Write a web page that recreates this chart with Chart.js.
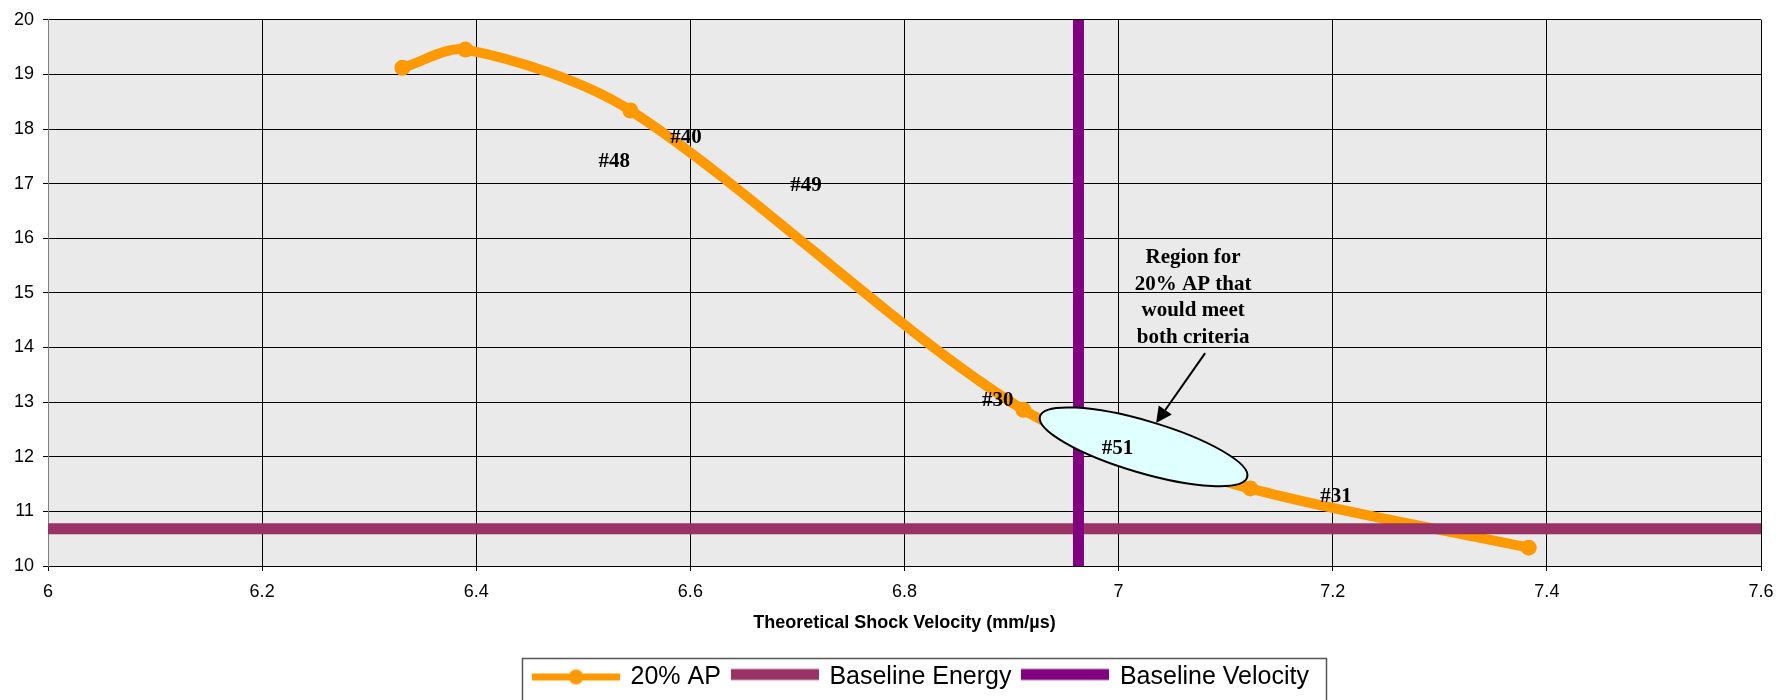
<!DOCTYPE html>
<html>
<head>
<meta charset="utf-8">
<title>20% AP vs theoretical shock velocity</title>
<script src="https://cdn.jsdelivr.net/npm/chart.js@4.4.1/dist/chart.umd.min.js"></script>
<style>
  html, body { margin: 0; padding: 0; background: #fff; }
  #wrap { width: 1787px; height: 700px; position: relative; }
</style>
</head>
<body>
<div id="wrap"><canvas id="shockChart"></canvas></div>
<script>
// 20% AP curve (x = theoretical shock velocity, y = value)
const apVelocity = [6.331, 6.390, 6.544, 6.911, 7.123, 7.383];
const apValue = [19.12, 19.455, 18.34, 12.86, 11.42, 10.335];

// baselines
const energyVelocity = [6, 7.6];
const energyValue = [10.68, 10.68];
const velocityVelocity = [6.9625, 6.9625];
const velocityValue = [10, 20];

// axis ticks
const xTickValues = [6, 6.2, 6.4, 6.6, 6.8, 7, 7.2, 7.4, 7.6];
const yTickValues = [10, 11, 12, 13, 14, 15, 16, 17, 18, 19, 20];

// shot labels written on the plot
const shotLabels = ['#48', '#40', '#49', '#30', '#51', '#31'];
const shotLabelX = [6.529, 6.596, 6.708, 6.887, 6.999, 7.203];
const shotLabelY = [17.40, 17.84, 16.96, 13.03, 12.15, 11.28];

// callout
const regionLines = ['Region for', '20% AP that', 'would meet', 'both criteria'];
const regionAt = [7.0696, 15.64];
const arrowFrom = [7.0808, 13.898];
const arrowTo = [7.035, 12.616];
const ellipseAt = [7.0233, 12.182];

const seriesNames = ['20% AP', 'Baseline Energy', 'Baseline Velocity'];

const toPoints = (xs, ys) => xs.map((v, i) => ({ x: v, y: ys[i] }));

function makeIcon(draw) {
  const c = document.createElement('canvas');
  c.width = 88;
  c.height = 20;
  draw(c.getContext('2d'));
  return c;
}

const legendIcons = [
  makeIcon((g) => {
    g.fillStyle = '#ff9900';
    g.fillRect(0, 6, 88, 7);
    g.beginPath();
    g.arc(44, 9.5, 7.5, 0, Math.PI * 2);
    g.fill();
  }),
  makeIcon((g) => {
    g.fillStyle = '#993366';
    g.fillRect(0, 1.5, 88, 11);
  }),
  makeIcon((g) => {
    g.fillStyle = '#800080';
    g.fillRect(0, 1.5, 88, 11);
  }),
];

const plotBackground = {
  id: 'plotBackground',
  beforeDraw(chart) {
    const { ctx, chartArea } = chart;
    ctx.save();
    ctx.fillStyle = '#ffffff';
    ctx.fillRect(0, 0, chart.width, chart.height);
    ctx.fillStyle = '#eaeaea';
    ctx.fillRect(chartArea.left, chartArea.top, chartArea.right - chartArea.left, chartArea.bottom - chartArea.top);
    ctx.restore();
  },
};

const calloutPlugin = {
  id: 'callout',
  afterDatasetsDraw(chart) {
    const { ctx, scales: { x, y } } = chart;
    ctx.save();

    // shaded region
    const cx = x.getPixelForValue(ellipseAt[0]);
    const cy = y.getPixelForValue(ellipseAt[1]);
    ctx.beginPath();
    ctx.ellipse(cx, cy, 108, 26, 16.4 * Math.PI / 180, 0, Math.PI * 2);
    ctx.fillStyle = '#e0ffff';
    ctx.fill();
    ctx.lineWidth = 2;
    ctx.strokeStyle = '#000';
    ctx.stroke();

    // arrow
    const ax = x.getPixelForValue(arrowFrom[0]);
    const ay = y.getPixelForValue(arrowFrom[1]);
    const bx = x.getPixelForValue(arrowTo[0]);
    const by = y.getPixelForValue(arrowTo[1]);
    const ang = Math.atan2(by - ay, bx - ax);
    const headLen = 16;
    const headHalf = 8;
    const baseX = bx - headLen * Math.cos(ang);
    const baseY = by - headLen * Math.sin(ang);
    ctx.beginPath();
    ctx.moveTo(ax, ay);
    ctx.lineTo(baseX, baseY);
    ctx.lineWidth = 2;
    ctx.stroke();
    ctx.beginPath();
    ctx.moveTo(bx, by);
    ctx.lineTo(baseX + headHalf * Math.sin(ang), baseY - headHalf * Math.cos(ang));
    ctx.lineTo(baseX - headHalf * Math.sin(ang), baseY + headHalf * Math.cos(ang));
    ctx.closePath();
    ctx.fillStyle = '#000';
    ctx.fill();

    // text
    ctx.font = 'bold 21px "Liberation Serif", "Times New Roman", serif';
    ctx.textAlign = 'center';
    ctx.textBaseline = 'middle';
    ctx.fillStyle = '#000';
    shotLabels.forEach((label, i) => {
      ctx.fillText(label, x.getPixelForValue(shotLabelX[i]), y.getPixelForValue(shotLabelY[i]));
    });
    const rx = x.getPixelForValue(regionAt[0]);
    const ry = y.getPixelForValue(regionAt[1]);
    regionLines.forEach((line, i) => ctx.fillText(line, rx, ry + i * 26.5));

    ctx.restore();
  },
};

const legendFrame = {
  id: 'legendFrame',
  afterDraw(chart) {
    const boxes = chart.legend && chart.legend.legendHitBoxes;
    if (!boxes || !boxes.length) return;
    const first = boxes[0];
    const last = boxes[boxes.length - 1];
    const left = Math.round(first.left - 12);
    const right = Math.round(last.left + last.width + 17);
    const top = Math.round(first.top - 7);
    const { ctx } = chart;
    ctx.save();
    ctx.strokeStyle = '#555';
    ctx.lineWidth = 1.5;
    ctx.strokeRect(left + 0.5, top + 0.5, right - left, chart.height - top + 10);
    ctx.restore();
  },
};

Chart.defaults.font.family = '"Liberation Sans", Arial, sans-serif';
Chart.defaults.color = '#000';

new Chart(document.getElementById('shockChart'), {
  type: 'line',
  data: {
    datasets: [
      {
        label: seriesNames[0],
        data: toPoints(apVelocity, apValue),
        borderColor: '#ff9900',
        backgroundColor: '#ff9900',
        borderWidth: 10,
        borderCapStyle: 'round',
        borderJoinStyle: 'round',
        pointRadius: 8,
        pointBorderWidth: 0,
        pointBackgroundColor: '#ff9900',
        tension: 0.3,
        order: 3,
      },
      {
        label: seriesNames[1],
        data: toPoints(energyVelocity, energyValue),
        borderColor: '#993366',
        backgroundColor: '#993366',
        borderWidth: 11,
        pointRadius: 0,
        order: 2,
      },
      {
        label: seriesNames[2],
        data: toPoints(velocityVelocity, velocityValue),
        borderColor: '#800080',
        backgroundColor: '#800080',
        borderWidth: 11,
        pointRadius: 0,
        order: 1,
      },
    ],
  },
  options: {
    responsive: true,
    maintainAspectRatio: false,
    animation: false,
    layout: {
      padding: { top: 17, left: 0, right: -56, bottom: 0 },
    },
    scales: {
      x: {
        type: 'linear',
        min: 6,
        max: 7.6,
        afterBuildTicks: (scale) => {
          scale.ticks = xTickValues.map((v) => ({ value: v }));
        },
        afterFit: (scale) => {
          scale.height = 87;
        },
        grid: { color: '#000', lineWidth: 1, tickLength: 5 },
        border: { color: '#000', width: 1 },
        ticks: {
          color: '#000',
          font: { size: 18 },
          padding: 10,
          maxRotation: 0,
          autoSkip: false,
          callback: (v) => String(+Number(v).toFixed(1)),
        },
        title: {
          display: true,
          text: 'Theoretical Shock Velocity (mm/µs)',
          color: '#000',
          font: { size: 18, weight: 'bold' },
          padding: { top: 4, bottom: 19 },
        },
      },
      y: {
        type: 'linear',
        min: 10,
        max: 20,
        afterBuildTicks: (scale) => {
          scale.ticks = yTickValues.map((v) => ({ value: v }));
        },
        afterFit: (scale) => {
          scale.width = 48;
        },
        grid: { color: '#000', lineWidth: 1, tickLength: 5 },
        border: { color: '#808080', width: 1 },
        ticks: {
          color: '#000',
          font: { size: 18 },
          padding: 9,
        },
      },
      yRight: {
        type: 'linear',
        position: 'right',
        display: true,
        grid: { display: false },
        border: { display: false },
        ticks: { display: false },
        afterFit: (scale) => {
          scale.width = 82;
        },
      },
    },
    plugins: {
      legend: {
        display: true,
        position: 'bottom',
        labels: {
          usePointStyle: true,
          pointStyleWidth: 84,
          padding: 12,
          color: '#000',
          font: { size: 25 },
          sort: (a, b) => a.datasetIndex - b.datasetIndex,
          generateLabels: (chart) => {
            const items = Chart.defaults.plugins.legend.labels.generateLabels(chart);
            items.forEach((item) => {
              item.pointStyle = legendIcons[item.datasetIndex];
            });
            return items;
          },
        },
      },
      tooltip: { enabled: false },
    },
  },
  plugins: [plotBackground, calloutPlugin, legendFrame],
});
</script>
</body>
</html>
